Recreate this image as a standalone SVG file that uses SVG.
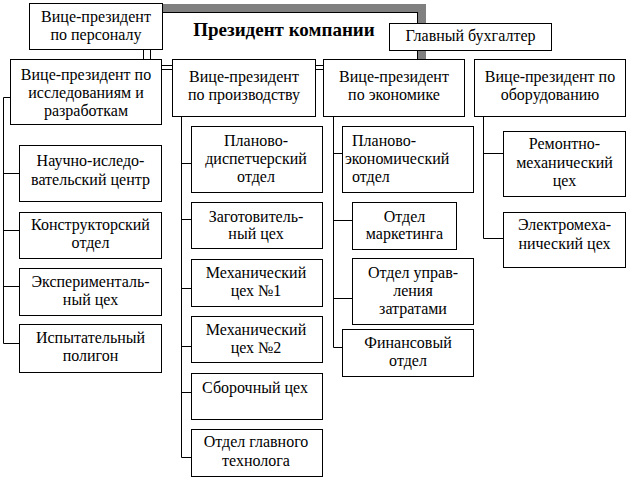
<svg xmlns="http://www.w3.org/2000/svg" width="629" height="479" viewBox="0 0 629 479" font-family="Liberation Serif, serif">
<style>
.b{fill:#fff;stroke:#000;stroke-width:1}
.t{font-family:'Liberation Serif','Times New Roman',serif;font-size:16px;fill:#000;text-anchor:middle}
.l{text-anchor:start}
.c{stroke:#000;stroke-width:1;fill:none}
</style>
<rect width="629" height="479" fill="#fff"/>
<g id="president">
<rect x="150" y="4" width="276" height="62" fill="#808080"/>
<rect x="150.5" y="12.5" width="267" height="53" class="b"/>
<text x="284" y="36" class="t" style="font-weight:bold;font-size:19px">Президент компании</text>
</g>
<g id="connectors" class="c">
<path d="M143.5 49.5V59.5M161.5 69.5H172.5M315.5 69.5H323.5"/>
<path d="M3.5 97.5H10.5M3.5 97.5V343.5M3.5 173.5H19.5M3.5 230.5H19.5M3.5 286.5H19.5M3.5 343.5H19.5"/>
<path d="M181.5 116.5V457.5M181.5 163.5H191.5M181.5 219.5H191.5M181.5 288.5H191.5M181.5 346.5H191.5M181.5 392.5H191.5M181.5 457.5H191.5"/>
<path d="M333.5 116.5V347.5M333.5 153.5H342.5M333.5 220.5H352.5M333.5 298.5H352.5M333.5 347.5H342.5"/>
<path d="M483.5 116.5V238.5M483.5 153.5H503.5M483.5 238.5H503.5"/>
</g>
<g id="vp-personnel"><rect x="29.5" y="3.5" width="133" height="46" class="b"/><text class="t" x="96" y="22">Вице-президент</text><text class="t" x="96" y="40">по персоналу</text></g>
<g id="accountant"><rect x="389.5" y="23.5" width="162" height="27" class="b"/><text class="t" x="470.5" y="41">Главный бухгалтер</text></g>
<g id="vp-research"><rect x="10.5" y="59.5" width="151" height="65" class="b"/><text class="t" x="86" y="80">Вице-президент по</text><text class="t" x="86" y="98">исследованиям и</text><text class="t" x="86" y="116">разработкам</text></g>
<g id="vp-production"><rect x="172.5" y="59.5" width="143" height="57" class="b"/><text class="t" x="244" y="82">Вице-президент</text><text class="t" x="244" y="100">по производству</text></g>
<g id="vp-economics"><rect x="323.5" y="59.5" width="141" height="57" class="b"/><text class="t" x="394" y="82">Вице-президент</text><text class="t" x="394" y="100">по экономике</text></g>
<g id="vp-equipment"><rect x="474.5" y="59.5" width="151" height="57" class="b"/><text class="t" x="550" y="82">Вице-президент по</text><text class="t" x="550" y="100">оборудованию</text></g>
<g id="r1"><rect x="19.5" y="145.5" width="142" height="56" class="b"/><text class="t" x="90.5" y="166">Научно-иследо-</text><text class="t" x="90.5" y="185">вательский центр</text></g>
<g id="r2"><rect x="19.5" y="212.5" width="142" height="46" class="b"/><text class="t" x="90.5" y="230">Конструкторский</text><text class="t" x="90.5" y="248">отдел</text></g>
<g id="r3"><rect x="19.5" y="268.5" width="142" height="47" class="b"/><text class="t" x="90.5" y="287">Эксперименталь-</text><text class="t" x="90.5" y="305">ный цех</text></g>
<g id="r4"><rect x="19.5" y="324.5" width="142" height="48" class="b"/><text class="t" x="90.5" y="343">Испытательный</text><text class="t" x="90.5" y="361">полигон</text></g>
<g id="p1"><rect x="191.5" y="126.5" width="131" height="66" class="b"/><text class="t" x="256" y="146">Планово-</text><text class="t" x="256" y="164">диспетчерский</text><text class="t" x="256" y="182">отдел</text></g>
<g id="p2"><rect x="191.5" y="202.5" width="131" height="46" class="b"/><text class="t" x="256" y="222">Заготовитель-</text><text class="t" x="256" y="239">ный цех</text></g>
<g id="p3"><rect x="191.5" y="259.5" width="131" height="47" class="b"/><text class="t" x="256" y="278">Механический</text><text class="t" x="256" y="296">цех №1</text></g>
<g id="p4"><rect x="191.5" y="316.5" width="131" height="46" class="b"/><text class="t" x="256" y="335">Механический</text><text class="t" x="256" y="353">цех №2</text></g>
<g id="p5"><rect x="191.5" y="373.5" width="131" height="46" class="b"/><text class="t" x="255" y="393">Сборочный цех</text></g>
<g id="p6"><rect x="191.5" y="429.5" width="131" height="47" class="b"/><text class="t" x="256" y="447">Отдел главного</text><text class="t" x="256" y="466">технолога</text></g>
<g id="e1"><rect x="342.5" y="126.5" width="131" height="66" class="b"/><text class="t l" x="352" y="146">Планово-</text><text class="t l" x="345" y="164">экономический</text><text class="t l" x="352" y="182">отдел</text></g>
<g id="e2"><rect x="352.5" y="202.5" width="104" height="47" class="b"/><text class="t" x="404.5" y="222">Отдел</text><text class="t" x="404.5" y="239">маркетинга</text></g>
<g id="e3"><rect x="352.5" y="258.5" width="121" height="66" class="b"/><text class="t" x="413" y="278">Отдел управ-</text><text class="t" x="413" y="296">ления</text><text class="t" x="413" y="314">затратами</text></g>
<g id="e4"><rect x="342.5" y="329.5" width="131" height="47" class="b"/><text class="t" x="408" y="348">Финансовый</text><text class="t" x="408" y="366">отдел</text></g>
<g id="q1"><rect x="503.5" y="131.5" width="122" height="65" class="b"/><text class="t" x="564.5" y="149">Ремонтно-</text><text class="t" x="564.5" y="168">механический</text><text class="t" x="564.5" y="186">цех</text></g>
<g id="q2"><rect x="503.5" y="212.5" width="122" height="55" class="b"/><text class="t" x="564.5" y="230">Электромеха-</text><text class="t" x="564.5" y="249">нический цех</text></g>
</svg>
